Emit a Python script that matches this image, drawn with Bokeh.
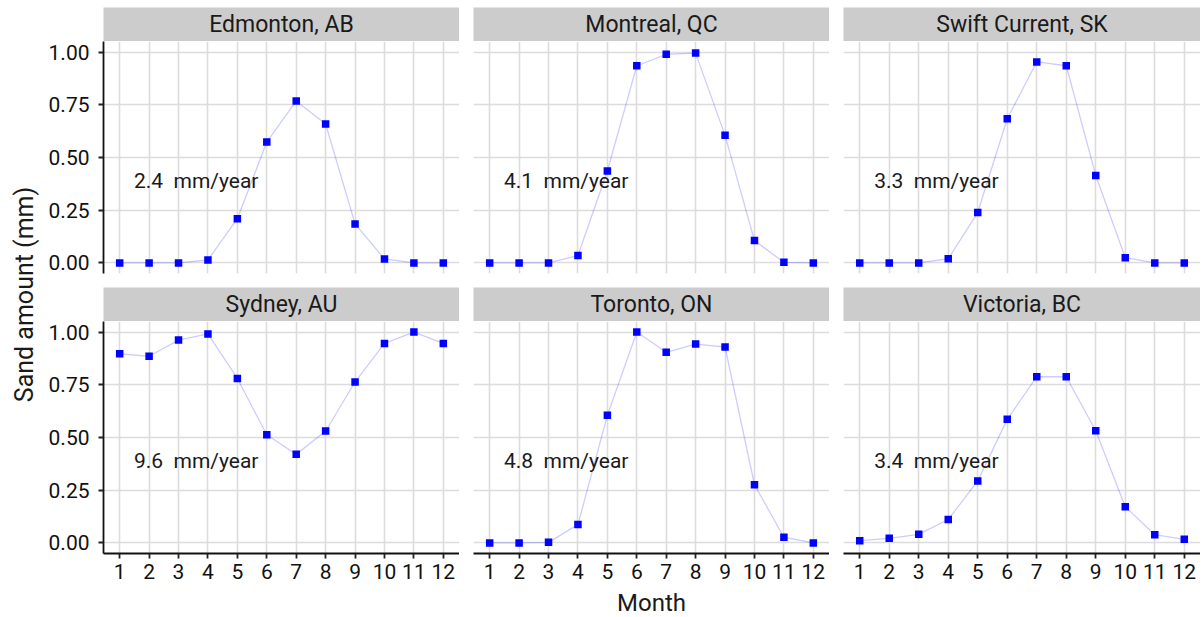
from bokeh.plotting import figure
from bokeh.models import Range1d, FixedTicker
from bokeh.layouts import row, column
from bokeh.core.properties import value
from bokeh.embed import file_html
from bokeh.resources import INLINE
import math

# ---------------- data ----------------
months = [1, 2, 3, 4, 5, 6, 7, 8, 9, 10, 11, 12]
month_labels = ["1", "2", "3", "4", "5", "6", "7", "8", "9", "10", "11", "12"]
y_ticks = [0.0, 0.25, 0.5, 0.75, 1.0]
y_tick_labels = ["0.00", "0.25", "0.50", "0.75", "1.00"]

cities = ["Edmonton, AB", "Montreal, QC", "Swift Current, SK",
          "Sydney, AU", "Toronto, ON", "Victoria, BC"]
edmonton = [0, 0, 0, 0.014, 0.21, 0.573, 0.768, 0.659, 0.185, 0.019, 0, 0]
montreal = [0, 0, 0, 0.035, 0.436, 0.935, 0.989, 0.995, 0.605, 0.106, 0.003, 0]
swift_current = [0, 0, 0, 0.02, 0.239, 0.684, 0.953, 0.935, 0.415, 0.025, 0, 0]
sydney = [0.897, 0.885, 0.962, 0.991, 0.78, 0.513, 0.42, 0.531, 0.763, 0.946, 1.0, 0.946]
toronto = [0, 0, 0.003, 0.087, 0.605, 1.0, 0.904, 0.943, 0.929, 0.276, 0.027, 0]
victoria = [0.011, 0.022, 0.041, 0.111, 0.294, 0.586, 0.788, 0.788, 0.532, 0.172, 0.039, 0.017]
series = [edmonton, montreal, swift_current, sydney, toronto, victoria]
annual_mm = [2.4, 4.1, 3.3, 9.6, 4.8, 3.4]

x_title = "Month"
y_title = "Sand amount (mm)"

# ---------------- layout constants ----------------
FONT = "Roboto"
LABEL_W = 40
LEFT_AXIS_W = 63
FRAME_WS = [356, 356, 357]
GAP = 14
TOP_PAD = 7
STRIP_H = 34
FRAME_H = 232
ROW_GAP = 14
X_AXIS_H = 35
TOTAL_H = 617
MONTH_H = TOTAL_H - (TOP_PAD + STRIP_H + FRAME_H + ROW_GAP + STRIP_H + FRAME_H + X_AXIS_H)

GRID_COLOR = "#dcdcdc"
TEXT_COLOR = "#1a1a1a"


def col_border(ci):
    return LEFT_AXIS_W if ci == 0 else GAP


def make_strip(name, ci, top_pad):
    b = col_border(ci)
    s = figure(width=b + FRAME_WS[ci], height=STRIP_H + top_pad,
               x_range=Range1d(0, 1), y_range=Range1d(0, 1),
               x_axis_location=None, y_axis_location=None, output_backend="svg",
               toolbar_location=None, min_border=0, min_border_left=b,
               min_border_right=0, min_border_top=top_pad, min_border_bottom=0)
    s.background_fill_color = "#cccccc"
    s.border_fill_color = "white"
    s.outline_line_color = None
    s.grid.visible = False
    s.text(x=[0.5], y=[0.5], text=[name], text_align="center", text_baseline="middle",
           text_font=value(FONT), text_font_size="23px", text_color=TEXT_COLOR)
    return s


def make_panel(idx, ci, bottom_row):
    b = col_border(ci)
    bb = X_AXIS_H if bottom_row else ROW_GAP
    p = figure(width=b + FRAME_WS[ci], height=FRAME_H + bb,
               x_range=Range1d(0.45, 12.55), y_range=Range1d(-0.05, 1.05),
               x_axis_location="below" if bottom_row else None,
               y_axis_location="left" if ci == 0 else None,
               output_backend="svg", toolbar_location=None,
               min_border=0, min_border_left=b, min_border_right=0,
               min_border_top=0, min_border_bottom=bb)
    p.outline_line_color = None
    p.background_fill_color = "white"
    p.border_fill_color = "white"
    p.xgrid.ticker = FixedTicker(ticks=months)
    p.ygrid.ticker = FixedTicker(ticks=y_ticks)
    p.grid.grid_line_color = GRID_COLOR
    p.grid.grid_line_width = 1.6
    for ax in p.axis:
        ax.axis_line_color = "#111111"
        ax.axis_line_width = 1.8
        ax.major_tick_line_color = "#222222"
        ax.major_tick_line_width = 1.8
        ax.major_tick_out = 5
        ax.major_tick_in = 0
        ax.minor_tick_line_color = None
        ax.major_label_text_font = FONT
        ax.major_label_text_font_size = "21px"
        ax.major_label_text_color = "#111111"
    if bottom_row:
        p.xaxis.ticker = FixedTicker(ticks=months)
        p.xaxis.major_label_overrides = {m: l for m, l in zip(months, month_labels)}
        p.xaxis.major_label_standoff = 5
    if ci == 0:
        p.yaxis.ticker = FixedTicker(ticks=y_ticks)
        p.yaxis.major_label_overrides = {t: l for t, l in zip(y_ticks, y_tick_labels)}
        p.yaxis.major_label_standoff = 9
    vals = series[idx]
    p.line(months, vals, line_color="blue", line_alpha=0.2, line_width=1.3)
    p.scatter(months, vals, marker="square", size=7.5, fill_color="blue", line_color=None)
    p.text(x=[3.6], y=[0.39], text=[f"{annual_mm[idx]} \u00a0mm/year"],
           text_align="center", text_baseline="middle",
           text_font=value(FONT), text_font_size="21px", text_color=TEXT_COLOR)
    return p


top_strips = [make_strip(cities[i], i, TOP_PAD) for i in range(3)]
top_panels = [make_panel(i, i, False) for i in range(3)]
bot_strips = [make_strip(cities[3 + i], i, 0) for i in range(3)]
bot_panels = [make_panel(3 + i, i, True) for i in range(3)]

grid_w = LEFT_AXIS_W + sum(FRAME_WS) + 2 * GAP

# y-axis title
ylab = figure(width=LABEL_W, height=TOTAL_H, x_range=Range1d(0, LABEL_W),
              y_range=Range1d(0, TOTAL_H), x_axis_location=None, y_axis_location=None,
              output_backend="svg", toolbar_location=None, min_border=0)
ylab.outline_line_color = None
ylab.grid.visible = False
ylab.text(x=[24], y=[TOTAL_H - 294], text=[y_title], angle=math.pi / 2,
          text_align="center", text_baseline="middle", text_font=value(FONT),
          text_font_size="25px", text_color=TEXT_COLOR)

# x-axis title, centred under the middle column
xlab = figure(width=grid_w, height=MONTH_H, x_range=Range1d(0, grid_w),
              y_range=Range1d(0, MONTH_H), x_axis_location=None, y_axis_location=None,
              output_backend="svg", toolbar_location=None, min_border=0)
xlab.outline_line_color = None
xlab.grid.visible = False
mid_center = LEFT_AXIS_W + FRAME_WS[0] + GAP + FRAME_WS[1] / 2
xlab.text(x=[mid_center], y=[MONTH_H / 2], text=[x_title], text_align="center",
          text_baseline="middle", text_font=value(FONT), text_font_size="24px",
          text_color=TEXT_COLOR)

layout = row(ylab, column(row(*top_strips), row(*top_panels), row(*bot_strips),
                          row(*bot_panels), xlab))

open("out.html", "w").write(file_html(layout, INLINE))
